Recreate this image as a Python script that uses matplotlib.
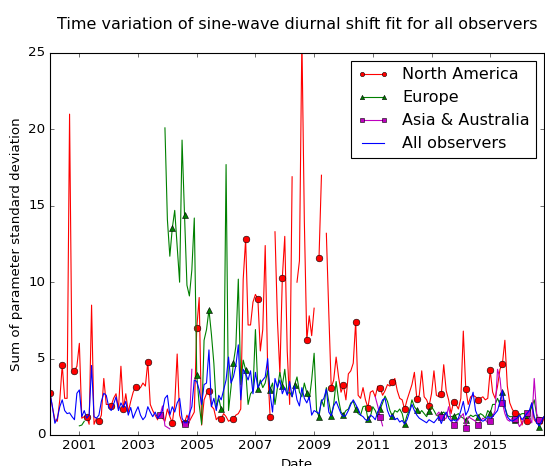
import numpy as np
import matplotlib
matplotlib.use('Agg')
import matplotlib.pyplot as plt

nan = np.nan

# Monthly values starting January 2000
north_america = [
    2.75, 1.8, 1.0, 0.9, 2.3, 4.58, 2.4, 2.4, 21.0, 4.3,
    4.2, 4.5, 6.0, 1.1, 1.2, 1.2, 0.7, 8.5, 0.7, 1.1,
    0.9, 1.3, 3.7, 2.0, 2.0, 1.9, 2.4, 2.7, 1.7, 4.5,
    1.7, 2.7, 1.5, 2.2, 2.8, 3.16, 3.0, 3.1, 3.4, 3.2,
    4.8, 2.0, 1.6, 1.3, 1.0, nan, 1.1, 0.9, 1.7, 1.2,
    0.8, 2.0, 5.3, 1.3, 0.8, 0.8, 1.3, 0.9, 1.2, 1.5,
    6.98, 9.0, 0.65, 2.3, 2.7, 2.85, 1.9, 1.7, 1.0, 1.2,
    1.05, 1.4, 1.2, 0.9, 1.0, 1.07, 1.3, 1.4, 1.7, 10.2,
    12.8, 7.2, 7.2, 8.7, 9.2, 8.9, 5.5, 6.9, 12.4, 4.4,
    1.2, nan, 13.3, 7.5, 4.0, 10.3, 13.0, 5.5, 2.0, 16.9,
    nan, 10.0, 11.4, 26.0, 14.0, 6.2, 7.8, 6.5, 8.3, nan,
    11.6, 17.0, nan, 13.2, 8.0, 3.08, 3.6, 5.1, 3.8, 2.8,
    3.25, 2.3, 4.0, 4.2, 4.7, 7.42, 2.6, 2.4, 3.1, 2.3,
    1.79, 2.8, 2.9, 2.5, 3.2, 3.08, 2.6, 2.9, 3.3, 3.2,
    3.49, 3.7, 2.9, 2.4, 2.3, 1.68, 2.3, 2.8, 3.3, 4.1,
    2.38, 2.6, 4.2, 2.5, 2.3, 1.88, 2.7, 4.2, 2.6, 2.5,
    2.66, 4.6, 2.9, 2.3, 1.4, 2.16, 2.0, 1.7, 2.4, 6.8,
    3.03, 2.0, 2.5, 2.6, 2.5, 2.29, 2.4, 2.5, 2.3, 2.4,
    4.23, 2.8, 2.4, 3.2, 4.3, 4.67, 6.2, 3.2, 2.1, 1.7,
    1.42, 1.0, 1.4, 0.65, 1.2, 0.94, 1.3, 2.1, 1.0, 0.8,
    0.98, 0.7, 1.1,
]

europe = [nan] * 12 + [0.6, 0.65, 0.9] + [nan] * 32 + [
    20.1, 14.1, 11.7,
    13.53, 14.7, 12.3, 10.0, 19.3, 14.43, 9.8, 9.1, 10.8, 14.2,
    3.93, 2.0, 0.7, 6.2, 6.9, 8.19, 6.6, 4.7, 1.85, 2.4,
    1.68, 1.6, 17.7, 1.6, 3.1, 4.74, 5.8, 10.2, 3.3, 4.9,
    4.26, 2.0, 2.7, 2.9, 6.9, 2.99, 3.6, 3.1, 3.4, 4.2,
    2.95, 3.4, 2.0, 3.1, 4.1, 3.21, 4.3, 2.7, 2.8, 2.5,
    3.27, 3.8, 2.8, 2.5, 3.4, 2.77, 2.3, 3.6, 5.35, 1.6,
    1.2, 2.3, 1.85, 3.1, 2.2, 1.27, 2.0, 3.5, 2.3, 1.5,
    1.33, 1.6, 1.7, 2.1, 2.2, 1.68, 1.4, 1.3, 1.85, 1.9,
    1.05, 1.2, 1.85, 1.6, 1.2, 1.68, 2.1, 2.55, 2.2, 1.6,
    1.24, 1.6, 1.5, 1.7, 1.4, 0.72, 1.3, 1.6, 2.3, 1.85,
    1.64, 1.4, 1.6, 1.4, 1.2, 1.59, 1.85, 1.6, 1.3, 1.2,
    1.4, 1.5, 1.3, 1.2, 1.2, 1.24, 1.3, 1.4, 1.2, 1.1,
    0.98, 1.1, 1.3, 1.2, 1.3, 1.2, 1.4, 1.3, 1.1, 1.6,
    1.42, 2.0, 2.0, 2.4, 2.0, 2.84, 1.85, 1.3, 1.2, 1.2,
    0.98, 1.2, 1.3, 1.4, 1.4, 1.3, 1.4, 1.85, 2.3, 1.3,
    0.5, 0.98, 1.2,
]

asia_australia = [nan] * 44 + [1.1, 1.3, 1.9, 0.6, 0.5, 0.4] + [nan] * 4 + [
    0.8, 0.7, 0.7, 0.8, 4.3] + [nan] * 74 + [2.5, 1.9, 1.2, 0.6] + [nan] * 21 + [
    1.3, 1.5,
    1.2, 1.0, 1.1, 1.85, 1.0, 0.65, 0.8, 1.0, 1.2, 1.4,
    0.44, 1.2, 1.1, 1.0, 0.9, 0.63, 0.9, 1.1, 1.0, 0.8,
    0.94, 1.2, 1.6, 4.3, 3.7, 2.1, 1.4, 1.0, 0.9, 1.1,
    1.05, 0.9, 0.55, 0.8, 1.1, 1.46, 1.1, 0.8, 3.7, 1.4,
    0.98, 1.0, 1.2,
]

all_observers = [
    2.73, 1.85, 0.77, 1.1, 1.85, 2.3, 1.6, 1.4, 1.45, 1.2,
    1.0, 2.73, 2.95, 1.2, 1.6, 1.1, 1.3, 4.55, 1.2, 1.1,
    1.3, 2.2, 2.73, 2.6, 1.85, 1.6, 2.0, 2.5, 1.6, 2.1,
    1.8, 2.2, 1.3, 1.8, 1.1, 1.5, 1.85, 1.3, 1.0, 1.2,
    1.85, 1.5, 1.2, 1.5, 1.1, 1.3, 1.6, 2.4, 2.6, 1.3,
    1.85, 1.5, 2.1, 2.4, 1.1, 0.8, 0.8, 1.4, 1.85, 3.6,
    3.5, 2.95, 2.0, 3.3, 3.4, 5.57, 1.85, 2.4, 1.6, 2.6,
    2.3, 2.95, 3.6, 5.1, 3.4, 3.8, 4.55, 5.9, 2.3, 4.3,
    4.0, 3.6, 4.2, 2.7, 4.1, 3.1, 3.4, 3.6, 3.8, 5.0,
    2.7, 1.5, 3.7, 3.1, 3.6, 2.7, 3.1, 2.6, 3.5, 2.5,
    3.2, 2.3, 1.9, 3.1, 2.4, 2.1, 2.5, 1.3, 1.6, 1.5,
    1.4, 2.2, 2.4, 3.0, 1.5, 1.25, 1.9, 2.2, 1.8, 1.4,
    1.2, 1.3, 1.6, 2.0, 2.3, 2.0, 1.7, 1.3, 1.2, 1.0,
    0.95, 1.3, 1.2, 1.0, 1.5, 1.9, 2.3, 2.4, 1.6, 1.2,
    1.3, 1.0, 1.1, 0.85, 0.95, 0.72, 1.0, 1.5, 2.0, 1.6,
    1.3, 1.1, 1.0, 0.9, 0.8, 1.0, 0.9, 0.8, 1.0, 1.2,
    0.75, 1.2, 1.5, 1.1, 0.9, 1.0, 0.9, 1.1, 1.6, 2.2,
    1.3, 1.6, 2.2, 2.8, 1.6, 1.2, 1.0, 0.9, 1.0, 1.2,
    1.1, 1.2, 1.4, 1.6, 2.2, 2.9, 1.8, 1.2, 1.0, 0.9,
    1.0, 1.1, 1.3, 1.0, 1.2, 1.4, 1.6, 2.1, 1.2, 0.8,
    0.6, 0.9, 1.2,
]

start_year = 2000
xtick_years = [2001, 2003, 2005, 2007, 2009, 2011, 2013, 2015]
yticks = [0, 5, 10, 15, 20, 25]

plt.style.use('classic')
W, H, DPI = 545, 466, 80
fig = plt.figure(figsize=(W / DPI, H / DPI), dpi=DPI, facecolor='white')
ax = fig.add_axes([50 / W, (H - 435) / H, 494 / W, 382 / H])

t = start_year + np.arange(len(north_america)) / 12.0

ax.plot(t, north_america, color='r', lw=1, marker='o', markevery=5, ms=6,
        mfc='r', mec='k', mew=0.5, label='North America')
ax.plot(t, europe, color='g', lw=1, marker='^', markevery=5, ms=6,
        mfc='g', mec='k', mew=0.5, label='Europe')
ax.plot(t, asia_australia, color='m', lw=1, marker='s', markevery=5, ms=6,
        mfc='m', mec='k', mew=0.5, label='Asia & Australia')
ax.plot(t, all_observers, color='b', lw=1, label='All observers')

ax.set_xlim(t[0], t[-1])
ax.set_ylim(0, 25)
ax.set_xticks(xtick_years)
ax.set_xticklabels([str(y) for y in xtick_years])
ax.set_yticks(yticks)
ax.set_title('Time variation of sine-wave diurnal shift fit for all observers',
             pad=22)
ax.set_xlabel('Date')
ax.set_ylabel('Sum of parameter standard deviation')
ax.legend(loc='upper right', numpoints=2, markerscale=0.65)

fig.savefig('out.png', dpi=DPI, facecolor='white')
